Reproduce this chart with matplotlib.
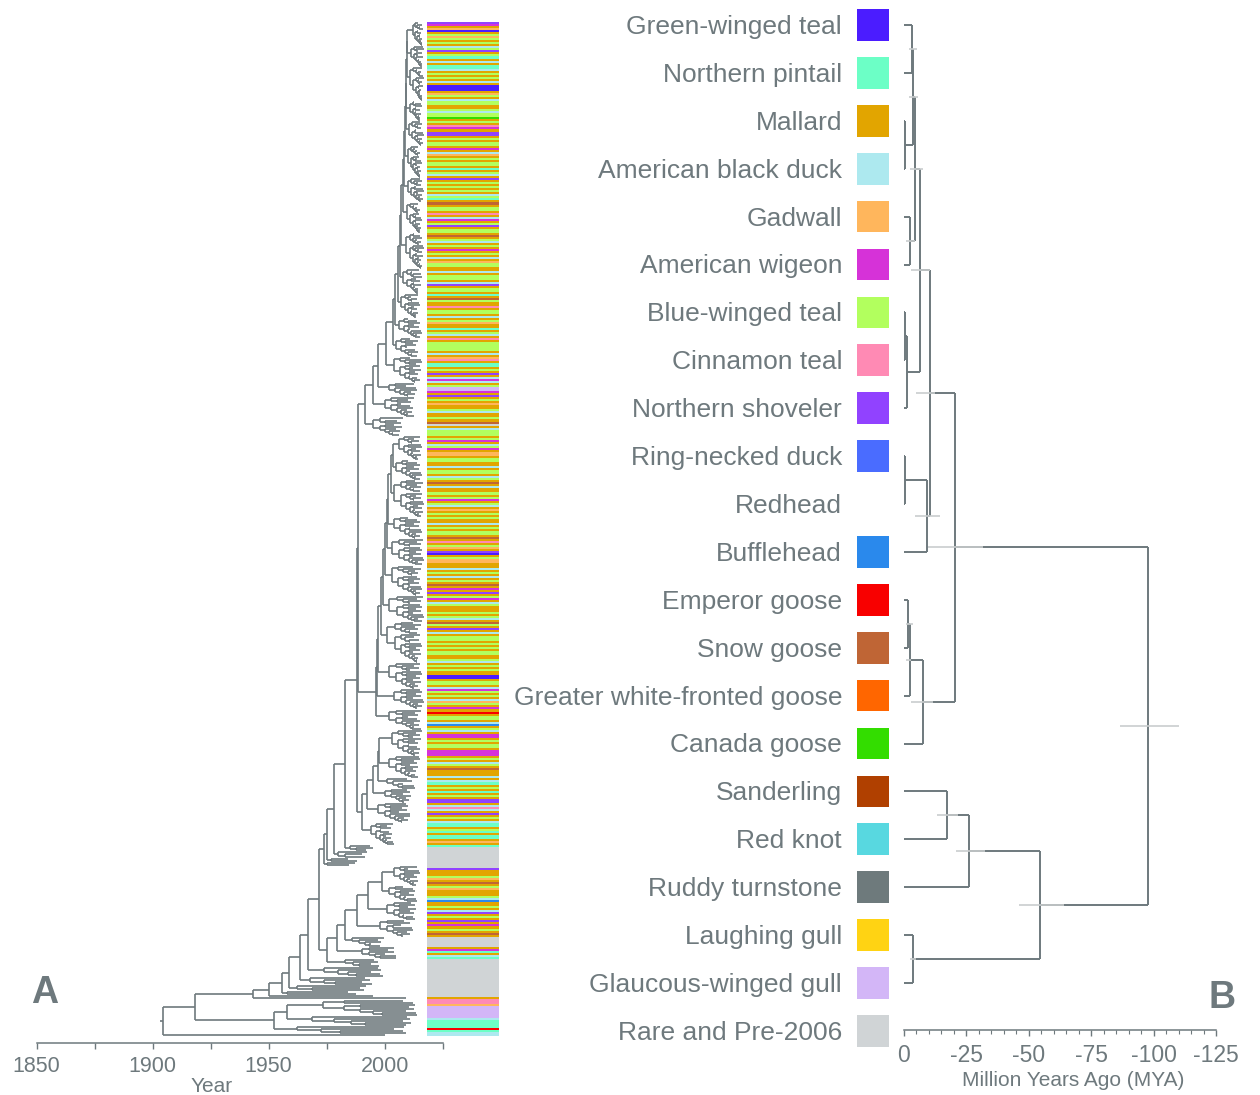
#Dated virus tree (A) and host species tree (B)
import matplotlib
matplotlib.use("Agg")
import matplotlib.pyplot as plt
from matplotlib.collections import LineCollection
from matplotlib.colors import ListedColormap
from matplotlib.patches import Rectangle
import numpy as np

plt.rcParams['font.family'] = ['Liberation Sans', 'DejaVu Sans']

GREY = '#6e797d'
LIGHT = '#c9cdce'

#Panel B - host species, swatch colours and dated species tree

SPECIES = ["Green-winged teal", "Northern pintail", "Mallard", "American black duck",
           "Gadwall", "American wigeon", "Blue-winged teal", "Cinnamon teal",
           "Northern shoveler", "Ring-necked duck", "Redhead", "Bufflehead",
           "Emperor goose", "Snow goose", "Greater white-fronted goose", "Canada goose",
           "Sanderling", "Red knot", "Ruddy turnstone", "Laughing gull",
           "Glaucous-winged gull", "Rare and Pre-2006"]

CODES = list("GPMKDWBCSRHFEOXANQTLUZ")

SWATCH = ['#4b1cff', '#6cffc6', '#e2a500', '#ade9ef', '#ffb65c', '#d632d8',
          '#b2ff5e', '#ff8ab4', '#9142ff', '#4a6cff', None, '#2a89ec',
          '#f80000', '#bf6535', '#ff6600', '#33dd00', '#b04000', '#58d8e0',
          '#6e7a7c', '#ffd313', '#d3b6f7', '#d0d4d6']

# (age in MYA, child, child) ; ints are the rows above
SPECIES_TREE = (97.9,
                (20.5,
                 (10.3,
                  (6.3,
                   (4.5, (3.7, (3.3, 0, 1), (0.3, 2, 3)), (2.5, 4, 5)),
                   (1.1, (0.3, 6, 7), 8)),
                  (9.4, (0.3, 9, 10), 11)),
                 (7.6, (2.3, (1.6, 12, 13), 14), 15)),
                (54.4, (25.9, (17.4, 16, 17), 18), (3.6, 19, 20)))

HPD = {3.3: (2.0, 5.3), 3.7: (2.0, 5.6), 4.5: (2.5, 7.6), 2.5: (1.0, 4.3),
       6.3: (2.9, 10.3), 10.3: (4.8, 12.4), 9.4: (4.3, 14.6), 20.5: (9.6, 31.7),
       1.6: (0.7, 3.6), 2.3: (0.7, 3.0), 7.6: (2.9, 11.6), 17.4: (13.2, 21.7),
       25.9: (20.7, 32.4), 3.6: (2.5, 4.9), 54.4: (46.0, 64.0), 97.9: (86.5, 110.3)}

MYA_TICKS = [0, 25, 50, 75, 100, 125]
MYA_LABELS = ["0", "-25", "-50", "-75", "-100", "-125"]

#Panel A - virus tree, clades as (tips, crown year, latest tip year)

TOP_BUSHES = [(12, 2012, 2017), (10, 2011.5, 2017), (17, 2011, 2017), (10, 2011, 2016),
              (12, 2010.5, 2017), (16, 2010, 2016), (12, 2010, 2017), (15, 2009.5, 2016),
              (18, 2009, 2017), (12, 2008, 2016), (12, 2007, 2015), (10, 2006, 2016),
              (9, 2005, 2015), (13, 2004, 2016), (7, 2002, 2014), (10, 2000, 2013),
              (9, 1995, 2008)]
TOP_NODES = [2009.6, 2009.4, 2009.2, 2009.0, 2008.6, 2008.2, 2007.8, 2007.2,
             2006.6, 2005.6, 2004.6, 2003.6, 2000.5, 1997.3, 1995, 1991.5]

MID_BUSHES = [(12, 2006, 2016), (10, 2005, 2016), (18, 2004, 2017), (11, 2004, 2016),
              (13, 2003, 2017), (15, 2003, 2016), (13, 2002, 2017), (20, 2001, 2016),
              (13, 2002, 2016), (10, 2004, 2017), (10, 2002, 2016)]
MID_NODES = [2003.5, 2002.5, 2001.5, 2001, 2000, 1999.2, 1998.2, 1997.3, 1996.8, 1996.3]

LM_BUSHES = [(13, 2003, 2016), (11, 2002, 2015), (5, 2001, 2013), (7, 2000, 2012),
             (10, 1997, 2011), (11, 1994, 2004)]
LM_NODES = [1997.5, 1997, 1995, 1992.5, 1990]

TOP_MID_YEAR = 1988.6
UPPER_YEAR = 1987.9

OLD_TUFTS = [(3, 1985, 1996), (3, 1980, 1993), (2, 1977, 1990), (2, 1975, 1988)]
TUFT_NODES = [1983, 1978.3, 1975.3, 1973.8]

LOW_BUSHES = [(10, 2004, 2015), (8, 2002, 2014), (9, 2001, 2014), (8, 1998, 2012),
              (5, 1986, 2000), (6, 1990, 2005), (4, 1983, 1998)]
LOW_NODES = [1999, 1993, 1987.9, 1982.9, 1979.3, 1975.1]

CORE_YEAR = 1971.8

BASE_BUSHES = [(5, 1974, 2000), (4, 1968, 1995), (3, 1962, 1992), (2, 1958, 1988),
               (1, 1995, 1995), (1, 2009, 2009)]
BASE_NODES = [1966.9, 1963.5, 1958.6, 1955.6, 1950.3, 1943.2]

OUT_BUSHES = [(8, 1973.5, 2014), (5, 1968.5, 2012), (4, 1962, 2010)]
OUT_NODES = [1958, 1952.3]

SPLIT_YEAR = 1918.2
ROOT_YEAR = 1904.4
ROOT_STEM = 1903.0
ROOT_TIP = 2000

# small spread of sampling years inside a clade
TIP_SPREAD = [0.0, -2.5, -1.0, -4.0, -0.5, -3.0, -1.5, -6.0, -2.0, -0.8, -3.5, -1.2, -5.0, -0.3]

# host of each tip, top to bottom (codes as in CODES)
STRIP = ("SWMDGMBDBM" "BMKBSMBPMK" "MPPKMBMBMK" "MGGGMDBMKB" "BMMBKBBAMB"
         "MCWMSSMBMB" "BMWMKDMBMB" "BMPMBKMSMB" "MBMBMKBPMO" "MBBMCMKWMB"
         "SMBBMOMBKM" "BMWMBMKMDB" "BMMKMBBMKS" "MBBMPMOBMM" "CMBBMKMBDM"
         "MPMBKMCMBB" "BBMKMDCMPP" "MBMSMKWKMB" "UUWMSMBMDM" "MBKMMBMOZM"
         "KBBBMBWMKB" "WMDDMBBMMK" "MBBMKBMOMK" "MMBMBWMBKM" "DMBMBMMKMB"
         "MBBMOMCMBD" "MSGMBDDMMK" "MBMKMBMOMW" "MSMBWMKBMM" "MBMBKMOBMS"
         "MKMBBMBMBM" "BBMMBKMBMB" "MMGGMBBMKW" "BMBMKDBMWM" "EMBBMKFMBK"
         "MWWMBMBBMW" "WWMBMKBMOM" "MMKMKPMBMP" "MBMSSMKCKM" "SMBMKPPMBP"
         "MPPMDMPZZZ" "ZZZZZZZSMM" "MBDMOMBDMM" "MBKFMMBMKS" "MBMSMWMBMO"
         "MZZZZZMWPM" "KPZZZZZZZZ" "ZZZZZZZZZZ" "ZMCCDUUUUU" "UKPPPPEPKK")

STRIP_LEFT = 2018.2
STRIP_RIGHT = 2049.2

#Build the virus tree

def bush(b):
    return ("bush",) + tuple(b)

def node(t, kids):
    return ("node", t, kids)

def ladder(items, years):
    tree = node(years[0], [items[0], items[1]])
    for item, t in zip(items[2:], years[1:]):
        tree = node(t, [tree, item])
    return tree

top = ladder([bush(b) for b in TOP_BUSHES], TOP_NODES)
mid = ladder([bush(b) for b in MID_BUSHES], MID_NODES)
lm = ladder([bush(b) for b in LM_BUSHES], LM_NODES)
upper = ladder([node(UPPER_YEAR, [node(TOP_MID_YEAR, [top, mid]), lm])] +
               [bush(b) for b in OLD_TUFTS], TUFT_NODES)
lower = ladder([bush(b) for b in LOW_BUSHES], LOW_NODES)
anatid = ladder([node(CORE_YEAR, [upper, lower])] + [bush(b) for b in BASE_BUSHES], BASE_NODES)
outgroup = ladder([bush(b) for b in OUT_BUSHES], OUT_NODES)
virus_tree = node(ROOT_YEAR, [node(SPLIT_YEAR, [anatid, outgroup]), bush((1, ROOT_TIP, ROOT_TIP))])

segs = []
tip_count = [0]

def next_tip():
    y = tip_count[0] + 0.5
    tip_count[0] += 1
    return y

def grow(n, t0, t1, parent_t):
    if n == 1:
        y = next_tip()
        tt = max(parent_t + 0.6, t1 + TIP_SPREAD[tip_count[0] % len(TIP_SPREAD)])
        segs.append([(parent_t, y), (tt, y)])
        return y
    a = n // 2 if n <= 3 else n // 3
    tc = t0 + (t1 - t0) * 0.22
    y1 = grow(a, tc, t1, t0)
    y2 = grow(n - a, tc, t1, t0)
    segs.append([(t0, y1), (t0, y2)])
    y = (y1 + y2) / 2
    segs.append([(parent_t, y), (t0, y)])
    return y

def place(item, parent_t):
    if item[0] == "bush":
        _, n, crown, tip = item
        if n == 1:
            y = next_tip()
            segs.append([(parent_t, y), (tip, y)])
            return y
        return grow(n, crown, tip, parent_t)
    _, t, kids = item
    ys = [place(k, t) for k in kids]
    segs.append([(t, ys[0]), (t, ys[-1])])
    y = (ys[0] + ys[-1]) / 2
    segs.append([(parent_t, y), (t, y)])
    return y

place(virus_tree, ROOT_STEM)
n_tips = tip_count[0]

#Figure

fig = plt.figure(figsize=(12.6, 10.95), dpi=100)

W, H = 1260, 1095
unit = (1036 - 22) / n_tips
ax_a = fig.add_axes([36.7 / W, (H - 1043) / H, (499 - 36.7) / W, (1043 - 22) / H])
ax_a.add_collection(LineCollection(segs, colors=GREY, linewidths=1.2))

strip_idx = np.array([CODES.index(c) for c in STRIP]).reshape(-1, 1)
ax_a.imshow(strip_idx, cmap=ListedColormap(SWATCH[:10] + ['#ffffff'] + SWATCH[11:]),
            vmin=-0.5, vmax=len(CODES) - 0.5, aspect='auto', interpolation='nearest',
            extent=[STRIP_LEFT, STRIP_RIGHT, len(STRIP), 0])

ax_a.set_xlim(1850, 1850 + (499 - 36.7) / 2.32)
ax_a.set_ylim(n_tips + 7 / unit, 0)
for s in ['top', 'right', 'left']:
    ax_a.spines[s].set_visible(False)
ax_a.spines['bottom'].set_bounds(1850, 2025)
ax_a.spines['bottom'].set_color(GREY)
ax_a.spines['bottom'].set_linewidth(1.1)
ax_a.set_xticks([1850, 1900, 1950, 2000])
ax_a.set_xticks([1875, 1925, 1975, 2025], minor=True)
ax_a.set_yticks([])
ax_a.tick_params(axis='x', which='both', colors=GREY, labelsize=15.5, length=4, width=1, pad=5)

fig.text(212 / W, 1 - 1087 / H, "Year", ha='center', va='center', fontsize=15, color=GREY)
fig.text(45 / W, 1 - 993 / H, "A", ha='center', va='center', fontsize=27,
         fontweight='bold', color=GREY)

#Panel B

ax_b = fig.add_axes([904 / W, (H - 1030) / H, 312 / W, (1030 - 10) / H])
px_my = 312 / 125
ax_b.set_xlim(0, 125)
ax_b.set_ylim((1030 - 25) / 47.9, (10 - 25) / 47.9)

b_segs = []
bars = []

def draw_species(nd):
    if isinstance(nd, int):
        return 0.0, nd
    age, left, right = nd
    xl, yl = draw_species(left)
    xr, yr = draw_species(right)
    b_segs.append([(xl, yl), (age, yl)])
    b_segs.append([(xr, yr), (age, yr)])
    b_segs.append([(age, yl), (age, yr)])
    y = (yl + yr) / 2
    if age in HPD:
        bars.append([(HPD[age][0], y), (HPD[age][1], y)])
    return age, y

x_root, y_root = draw_species(SPECIES_TREE)

ax_b.add_collection(LineCollection(b_segs, colors=GREY, linewidths=1.4, clip_on=False, zorder=2))
ax_b.add_collection(LineCollection(bars, colors=LIGHT, linewidths=1.2, clip_on=False, zorder=3))

label_x = (842 - 904) / px_my
sw_x = (857 - 904) / px_my
sw_w = 32 / px_my
for i, name in enumerate(SPECIES):
    ax_b.text(label_x, i + 0.04, name, ha='right', va='center', fontsize=19,
              color=GREY, clip_on=False)
    if SWATCH[i] is not None:
        ax_b.add_patch(Rectangle((sw_x, i - 0.33), sw_w, 0.66, facecolor=SWATCH[i],
                                 edgecolor='none', clip_on=False))

for s in ['top', 'right', 'left']:
    ax_b.spines[s].set_visible(False)
ax_b.spines['bottom'].set_color(GREY)
ax_b.spines['bottom'].set_linewidth(1.1)
ax_b.set_xticks(MYA_TICKS)
ax_b.set_xticklabels(MYA_LABELS)
ax_b.set_xticks(np.arange(0, 126, 5), minor=True)
ax_b.set_yticks([])
ax_b.tick_params(axis='x', which='major', colors=GREY, labelsize=16.5, length=4, width=1, pad=6)
ax_b.tick_params(axis='x', which='minor', colors=GREY, length=3, width=0.8)

fig.text(1073 / W, 1 - 1080 / H, "Million Years Ago (MYA)", ha='center', va='center',
         fontsize=15, color=GREY)
fig.text(1222 / W, 1 - 998 / H, "B", ha='center', va='center', fontsize=27,
         fontweight='bold', color=GREY)

fig.savefig("out.png", dpi=100)
